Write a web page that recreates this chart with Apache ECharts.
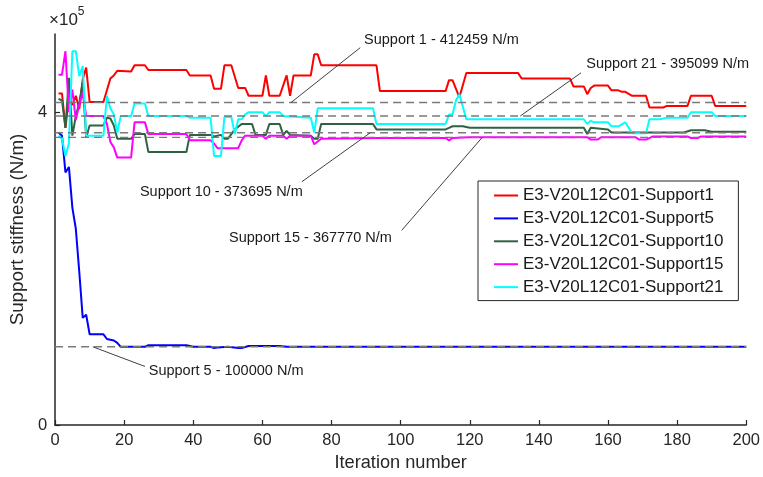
<!DOCTYPE html>
<html>
<head>
<meta charset="utf-8">
<script src="https://cdn.jsdelivr.net/npm/echarts@6/dist/echarts.min.js"></script>
<style>
  html, body { margin: 0; padding: 0; background: #ffffff; }
  #chart { width: 763px; height: 477px; }
</style>
</head>
<body>
<div id="chart"></div>
<script>
// Support stiffness per iteration, in units of 1e5 N/m: [iteration, stiffness]
const support1 = [[1,4.24],[2,4.24],[3,3.80],[4,4.19],[5,4.09],[6,4.21],[7,4.04],[8,4.42],[9,4.57],[10,4.13],[14,4.13],[16,4.43],[17,4.47],[18,4.53],[22,4.52],[23,4.60],[26,4.60],[27,4.54],[38,4.54],[39,4.47],[45,4.47],[46,4.30],[48,4.30],[49,4.60],[51,4.60],[53,4.31],[55,4.31],[56,4.21],[60,4.21],[61,4.47],[62,4.21],[65,4.21],[67,4.47],[68,4.21],[69,4.47],[74,4.47],[75,4.74],[76,4.74],[77,4.60],[93,4.60],[94,4.27],[113,4.27],[114,4.41],[115,4.41],[117,4.19],[119,4.50],[134,4.50],[135,4.43],[149,4.43],[150,4.33],[153,4.33],[154,4.23],[155,4.31],[156,4.34],[160,4.34],[161,4.28],[163,4.28],[164,4.26],[165,4.26],[167,4.21],[171,4.21],[172,4.06],[176,4.06],[177,4.08],[183,4.08],[184,4.21],[190,4.21],[191,4.08],[200,4.08]];
const support5 = [[1,3.74],[2,3.70],[3,3.23],[4,3.30],[5,2.78],[6,2.51],[7,1.96],[8,1.37],[9,1.41],[10,1.16],[14,1.16],[15,1.10],[17,1.08],[18,1.05],[19,1.00],[26,1.00],[27,1.02],[38,1.02],[40,1.00],[45,1.00],[46,0.985],[47,0.99],[50,1.00],[53,0.985],[54,0.985],[56,1.01],[65,1.01],[67,1.00],[200,1.00]];
const support10 = [[1,4.17],[2,4.15],[3,3.80],[4,4.44],[5,3.70],[6,3.95],[7,4.12],[8,4.38],[9,3.68],[10,3.83],[14,3.83],[15,3.93],[16,3.92],[17,3.83],[18,3.66],[22,3.66],[23,3.72],[26,3.72],[27,3.49],[38,3.49],[39,3.71],[45,3.71],[46,3.69],[48,3.71],[49,3.66],[50,3.66],[52,3.78],[54,3.85],[57,3.85],[58,3.71],[61,3.71],[62,3.85],[65,3.85],[66,3.71],[67,3.76],[68,3.71],[74,3.70],[75,3.66],[76,3.66],[77,3.85],[92,3.85],[93,3.78],[113,3.78],[114,3.80],[115,3.82],[118,3.82],[120,3.80],[153,3.80],[154,3.72],[155,3.80],[160,3.78],[161,3.74],[182,3.74],[184,3.77],[188,3.77],[190,3.75],[200,3.75]];
const support15 = [[1,4.48],[2,4.48],[3,4.78],[4,4.00],[5,4.29],[6,3.90],[7,4.10],[8,4.25],[9,3.95],[14,3.95],[15,3.85],[16,3.62],[17,3.55],[18,3.42],[22,3.42],[23,3.87],[26,3.87],[27,3.72],[38,3.72],[39,3.64],[45,3.64],[46,3.60],[47,3.54],[53,3.54],[54,3.64],[55,3.70],[60,3.70],[61,3.66],[62,3.70],[66,3.70],[67,3.66],[68,3.70],[74,3.70],[75,3.59],[77,3.66],[93,3.67],[113,3.67],[114,3.64],[115,3.67],[120,3.68],[154,3.68],[155,3.65],[157,3.65],[158,3.68],[168,3.68],[169,3.65],[171,3.65],[173,3.69],[183,3.69],[184,3.67],[186,3.67],[187,3.69],[200,3.69]];
const support21 = [[1,3.70],[2,3.66],[3,3.44],[4,3.60],[5,4.78],[6,4.78],[7,4.46],[8,4.59],[9,3.70],[14,3.70],[15,4.21],[16,4.05],[17,3.97],[18,3.74],[19,3.95],[22,3.95],[23,4.11],[26,4.11],[27,3.95],[38,3.95],[39,3.93],[45,3.93],[46,3.44],[48,3.44],[49,3.94],[51,3.94],[52,3.72],[53,3.91],[54,3.91],[55,3.97],[56,4.00],[60,4.00],[61,3.95],[62,4.00],[65,4.00],[66,3.95],[74,3.93],[75,3.74],[76,4.05],[92,4.05],[93,3.85],[113,3.85],[114,3.97],[115,3.97],[116,4.15],[117,4.23],[119,3.91],[153,3.91],[154,3.85],[155,3.89],[156,3.87],[160,3.87],[161,3.82],[163,3.82],[165,3.87],[167,3.73],[171,3.73],[172,3.91],[175,3.91],[177,3.93],[183,3.93],[184,4.00],[190,4.00],[191,3.95],[200,3.95]];

// Final (target) stiffness of each support, N/m
const finalSupport1 = 412459;
const finalSupport5 = 100000;
const finalSupport10 = 373695;
const finalSupport15 = 367770;
const finalSupport21 = 395099;

const seriesNames = ['E3-V20L12C01-Support1','E3-V20L12C01-Support5','E3-V20L12C01-Support10','E3-V20L12C01-Support15','E3-V20L12C01-Support21'];
const yTickValues = [0, 400000];
const UNIT = 1e5;

const seriesColors = ['#ff0000', '#0000ff', '#2f6242', '#ff00ff', '#00ffff'];
const curves = [support1, support5, support10, support15, support21];

const toNewton = pts => pts.map(p => [p[0], p[1] * UNIT]);

// Callout placement in axis units: [iteration, stiffness/1e5]
const callouts = [
  { label: 'Support 1',  value: finalSupport1,  at: 68.3,  elbow: [88.3, 4.825],  text: [89.4, 4.927], align: 'left' },
  { label: 'Support 21', value: finalSupport21, at: 134.6, elbow: [152.2, 4.504], text: [153.7, 4.61], align: 'left' },
  { label: 'Support 10', value: finalSupport10, at: 91.2,  elbow: [71.4, 3.111],  text: [48.1, 2.984], align: 'center' },
  { label: 'Support 15', value: finalSupport15, at: 123.6, elbow: [100.3, 2.489], text: [73.9, 2.387], align: 'center' },
  { label: 'Support 5',  value: finalSupport5,  at: 10.9,  elbow: [26.0, 0.749],  text: [27.1, 0.686], align: 'left' }
];

const chart = echarts.init(document.getElementById('chart'), null, { renderer: 'canvas' });
const axisColor = '#262626';
const FONT = '"Liberation Sans", Arial, Helvetica, sans-serif';

const lineSeries = curves.map((c, i) => ({
  name: seriesNames[i],
  type: 'line',
  data: toNewton(c),
  symbol: 'none',
  smooth: false,
  z: 3 + i,
  lineStyle: { color: seriesColors[i], width: 2 },
  itemStyle: { color: seriesColors[i] },
  emphasis: { disabled: true },
  animation: false
}));

const refValues = [finalSupport1, finalSupport5, finalSupport10, finalSupport15, finalSupport21];
const refSeries = refValues.map(v => ({
  name: 'ref' + v,
  type: 'line',
  data: [[0, v], [200, v]],
  symbol: 'none',
  z: 10,
  lineStyle: { color: '#7a7a7a', width: 1.4, type: [8, 5] },
  emphasis: { disabled: true },
  animation: false
}));

chart.setOption({
  animation: false,
  backgroundColor: '#ffffff',
  grid: { left: 49, right: 14, top: 34, bottom: 49, containLabel: false },
  xAxis: {
    type: 'value', min: 0, max: 200, interval: 20,
    name: 'Iteration number', nameLocation: 'middle', nameGap: 29,
    nameTextStyle: { fontFamily: FONT, fontSize: 18.2, color: axisColor },
    axisLine: { show: true, onZero: false, lineStyle: { color: axisColor, width: 1.5 } },
    axisTick: { show: true, inside: true, length: 5, lineStyle: { color: axisColor, width: 1.2 } },
    axisLabel: { fontFamily: FONT, fontSize: 16.5, color: axisColor, margin: 7 },
    splitLine: { show: false }
  },
  yAxis: {
    type: 'value', min: 0, max: 500000,
    name: 'Support stiffness (N/m)', nameLocation: 'middle', nameGap: 22,
    nameTextStyle: { fontFamily: FONT, fontSize: 18.8, color: axisColor },
    axisLine: { show: true, onZero: false, lineStyle: { color: axisColor, width: 1.5 } },
    axisTick: { show: true, inside: true, length: 5, customValues: yTickValues, lineStyle: { color: axisColor, width: 1.2 } },
    axisLabel: { fontFamily: FONT, fontSize: 16.5, color: axisColor, margin: 8, customValues: yTickValues,
      formatter: v => String(Math.round(v / UNIT)) },
    splitLine: { show: false }
  },
  legend: {
    data: seriesNames.map(n => ({ name: n, icon: 'rect' })),
    orient: 'vertical',
    left: 478, top: 181,
    padding: [6, 15, 5, 16],
    itemGap: 5.9,
    itemWidth: 24, itemHeight: 2,
    backgroundColor: '#ffffff',
    borderColor: axisColor, borderWidth: 1,
    borderRadius: 0,
    selectedMode: false,
    textStyle: { fontFamily: FONT, fontSize: 17, color: '#1a1a1a', lineHeight: 16 }
  },
  series: lineSeries.concat(refSeries)
});

// Axis multiplier and value callouts with leader lines
const px = (it, v) => chart.convertToPixel({ gridIndex: 0 }, [it, v]);
const graphics = [{
  type: 'text', left: 49, top: 6, silent: true,
  style: {
    text: '{a|×10}{b|5}',
    rich: {
      a: { fontFamily: FONT, fontSize: 17, fill: axisColor, verticalAlign: 'bottom', padding: [6, 0, 0, 0] },
      b: { fontFamily: FONT, fontSize: 12, fill: axisColor, verticalAlign: 'top' }
    }
  }
}];
callouts.forEach(c => {
  const p0 = px(c.at, c.value);
  const p1 = px(c.elbow[0], c.elbow[1] * UNIT);
  const pt = px(c.text[0], c.text[1] * UNIT);
  graphics.push({
    type: 'line', silent: true, z: 20,
    shape: { x1: p0[0], y1: p0[1], x2: p1[0], y2: p1[1] },
    style: { stroke: '#404040', lineWidth: 1 }
  });
  graphics.push({
    type: 'text', silent: true, z: 20, x: pt[0], y: pt[1],
    style: {
      text: c.label + ' - ' + c.value + ' N/m',
      fontFamily: FONT, fontSize: 14.5, fill: '#1a1a1a',
      align: c.align, verticalAlign: 'middle'
    }
  });
});
chart.setOption({ graphic: graphics });
</script>
</body>
</html>
